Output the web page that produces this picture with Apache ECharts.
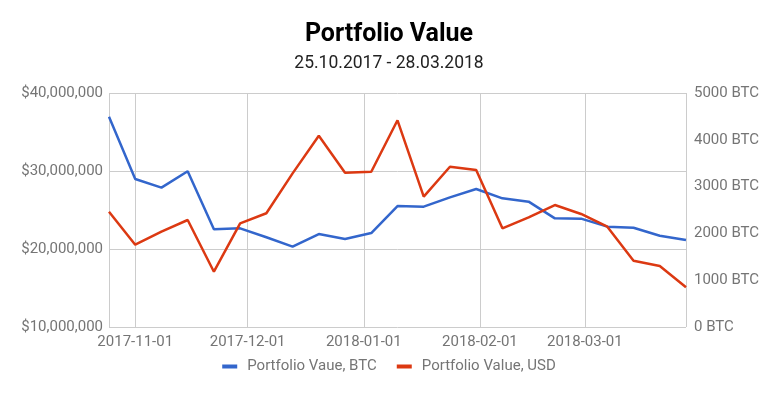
<!DOCTYPE html>
<html>
<head>
<meta charset="utf-8">
<script src="https://cdn.jsdelivr.net/npm/echarts@6/dist/echarts.min.js"></script>
<style>
  html, body { margin: 0; padding: 0; background: #fff; }
  #chart { width: 778px; height: 398px; }
</style>
</head>
<body>
<div id="chart"></div>
<script>
var dates = ['2017-10-25', '2017-11-01', '2017-11-08', '2017-11-15', '2017-11-22', '2017-11-29',
    '2017-12-06', '2017-12-13', '2017-12-20', '2017-12-27', '2018-01-03', '2018-01-10',
    '2018-01-17', '2018-01-24', '2018-01-31', '2018-02-07', '2018-02-14', '2018-02-21',
    '2018-02-28', '2018-03-07', '2018-03-14', '2018-03-21', '2018-03-28'];
var valueBtc = [4494, 3162, 2977, 3327, 2087, 2108, 1917, 1716, 1987, 1880, 2008, 2585,
    2571, 2771, 2949, 2749, 2678, 2322, 2315, 2144, 2122, 1951, 1859];
var valueUsd = [24780000, 20550000, 22220000, 23720000, 17090000, 23290000, 24580000, 29700000,
    34530000, 29780000, 29910000, 36500000, 26710000, 30550000, 30130000, 22650000, 24060000,
    25640000, 24490000, 22860000, 18500000, 17820000, 15090000];

var font = 'Roboto, sans-serif';
var labelColor = '#757575';

function pairs(values) {
    return dates.map(function (d, i) { return [d, values[i]]; });
}

function money(v) {
    return '$' + v.toString().replace(/\B(?=(\d{3})+(?!\d))/g, ',');
}

var chart = echarts.init(document.getElementById('chart'));
chart.setOption({
    animation: false,
    textStyle: { fontFamily: font },
    title: {
        text: 'Portfolio Value',
        subtext: '25.10.2017 - 28.03.2018',
        left: 'center',
        top: 17,
        itemGap: 8,
        textStyle: { fontFamily: font, fontSize: 25, fontWeight: 'bold', color: '#000' },
        subtextStyle: { fontFamily: font, fontSize: 17.5, color: '#222' }
    },
    legend: {
        bottom: 19,
        left: 'center',
        itemWidth: 15,
        itemHeight: 4,
        itemGap: 20,
        icon: 'rect',
        textStyle: { fontFamily: font, fontSize: 15, color: labelColor, padding: [0, 0, 0, 5] }
    },
    grid: { left: 109, right: 92, top: 93, bottom: 71 },
    xAxis: {
        type: 'time',
        min: '2017-10-25',
        max: '2018-03-28',
        axisLine: { show: false },
        axisTick: { show: false },
        axisLabel: {
            color: labelColor,
            fontSize: 15,
            margin: 8,
            formatter: function (v) { return echarts.time.format(v, '{yyyy}-{MM}-{dd}', false); }
        },
        splitLine: { show: true, lineStyle: { color: '#cccccc', width: 1 } }
    },
    yAxis: [{
        type: 'value',
        min: 10000000,
        max: 40000000,
        interval: 10000000,
        axisLine: { show: false },
        axisTick: { show: false },
        axisLabel: { color: labelColor, fontSize: 15, margin: 6, formatter: money },
        splitLine: { lineStyle: { color: '#cccccc', width: 1 } }
    }, {
        type: 'value',
        min: 0,
        max: 5000,
        interval: 1000,
        position: 'right',
        axisLine: { show: false },
        axisTick: { show: false },
        axisLabel: {
            color: labelColor,
            fontSize: 15,
            margin: 8,
            formatter: function (v) { return v + ' BTC'; }
        },
        splitLine: { show: false }
    }],
    series: [{
        name: 'Portfolio Vaue, BTC',
        type: 'line',
        yAxisIndex: 1,
        data: pairs(valueBtc),
        showSymbol: false,
        color: '#3366cc',
        lineStyle: { width: 2.5 }
    }, {
        name: 'Portfolio Value, USD',
        type: 'line',
        yAxisIndex: 0,
        data: pairs(valueUsd),
        showSymbol: false,
        color: '#dc3912',
        lineStyle: { width: 2.5 }
    }]
});
</script>
</body>
</html>
